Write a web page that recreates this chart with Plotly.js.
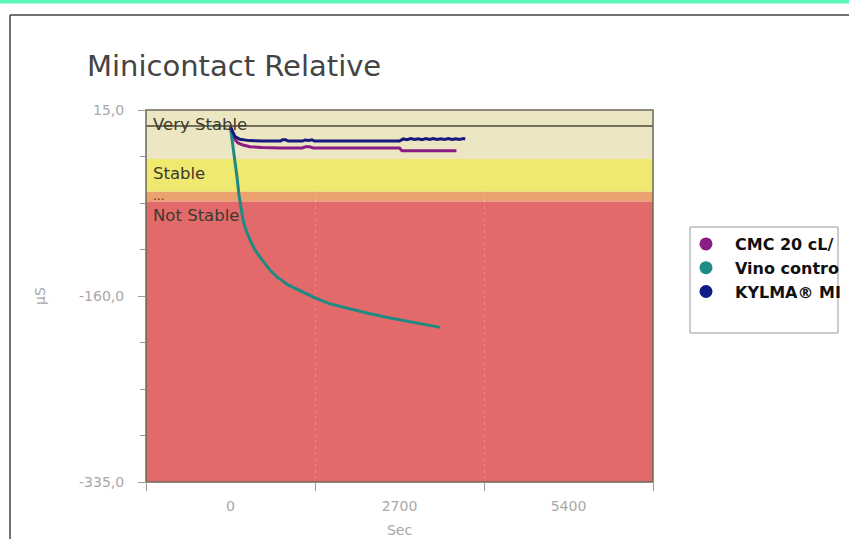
<!DOCTYPE html>
<html>
<head>
<meta charset="utf-8">
<script src="https://cdn.plot.ly/plotly-3.0.1.min.js"></script>
<style>html,body{margin:0;padding:0;background:#fff;}#chart{width:849px;height:539px;}</style>
</head>
<body>
<div id="chart"></div>
<script>
// ---- data ----
const seriesNames = ['CMC 20 cL/', 'Vino contro', 'KYLMA® MI'];

const tCmc = [0, 40, 72, 120, 200, 312, 500, 800, 1150, 1200, 1260, 1320, 1500, 2000, 2700, 2740, 3000, 3610];
const vCmc = [-1, -9, -13, -16, -18, -19.5, -20.3, -20.7, -20.7, -19.5, -19.5, -20.7, -20.7, -20.7, -20.7, -23.3, -23.3, -23.3];

const tVino = [0, 40, 72, 104, 136, 168, 200, 248, 312, 391, 503, 631, 743, 919, 1110, 1350, 1590, 1909, 2181, 2468, 2708, 3028, 3347];
const vVino = [-2, -17.9, -32, -48, -65, -79, -88.5, -98, -107.3, -116.7, -126.1, -135.5, -142.1, -149.6, -155.3, -161.8, -167.4, -172.2, -176, -179.8, -182.6, -185.9, -189.5];

const tKylma = [0, 40, 72, 150, 300, 500, 800, 830, 880, 920, 1150, 1190, 1250, 1300, 1340, 1400, 2700, 2760, 2820, 2880, 2940, 3000, 3060, 3120, 3180, 3240, 3300, 3360, 3420, 3480, 3540, 3600, 3660, 3720, 3750];
const vKylma = [-1, -7, -10, -12.5, -13.8, -14.2, -14.2, -13, -13, -14.2, -14.2, -13.2, -13.6, -13, -14.2, -14.2, -14.2, -12.2, -12.9, -11.9, -12.8, -12, -12.9, -11.9, -12.7, -11.8, -12.8, -12, -12.8, -11.9, -12.8, -12, -12.7, -11.9, -12.3];

const bandLabels = ['Very Stable', 'Stable', '...', 'Not Stable'];
const bandTop    = [15, -31, -62, -71];
const bandBottom = [-31, -62, -71, -335];
const bandLabelAt = [1.8, -44.3, -65.5, -83.8];
const referenceLine = 0;

const xTickVals = [0, 2700, 5400];
const xTickText = ['0', '2700', '5400'];
const yTickVals = [15, -160, -335];
const yTickText = ['15,0', '-160,0', '-335,0'];

// ---- styles ----
const lineColors = ['#8b1c86', '#1e8a82', '#16187e'];
const markerColors = ['#8b1c86', '#1e8c84', '#0e1a88'];
const bandColors = ['#ede6c3', '#efe96f', '#eca26f', '#e36a6a'];

// geometry helpers (plot area in px)
const L = 146, R = 653, T = 110, B = 482, W = 849, H = 539;
const px2x = p => (p - L) / (R - L);
const px2y = p => 1 - (p - T) / (B - T);

const series = [[tCmc, vCmc], [tVino, vVino], [tKylma, vKylma]];
const traces = [];
series.forEach((s, i) => {
  traces.push({
    x: s[0], y: s[1], type: 'scatter', mode: 'lines',
    line: {color: lineColors[i], width: 3},
    showlegend: false, hoverinfo: 'skip', name: seriesNames[i]
  });
});
seriesNames.forEach((n, i) => {
  traces.push({
    x: [null], y: [null], type: 'scatter', mode: 'markers', name: n,
    marker: {color: markerColors[i], size: 13}, hoverinfo: 'skip'
  });
});

const shapes = [];
bandLabels.forEach((b, i) => {
  shapes.push({type: 'rect', xref: 'paper', yref: 'y', x0: 0, x1: 1, y0: bandBottom[i], y1: bandTop[i],
    fillcolor: bandColors[i], line: {width: 0}, layer: 'below'});
});
shapes.push({type: 'line', xref: 'paper', yref: 'y', x0: 0, x1: 1, y0: referenceLine, y1: referenceLine,
  line: {color: '#4a4a3a', width: 1.5}, layer: 'above'});
shapes.push({type: 'rect', xref: 'paper', yref: 'paper', x0: 0, x1: 1, y0: 0, y1: 1,
  line: {color: '#6a6a5a', width: 1.5}, layer: 'above'});
// page decorations
shapes.push({type: 'rect', xref: 'paper', yref: 'paper', x0: px2x(-5), x1: px2x(W + 5), y0: px2y(3.5), y1: px2y(-5),
  fillcolor: '#5ef5b9', line: {width: 0}});
shapes.push({type: 'line', xref: 'paper', yref: 'paper', x0: px2x(10), x1: px2x(W + 5), y0: px2y(15), y1: px2y(15),
  line: {color: '#444', width: 1.5}});
shapes.push({type: 'line', xref: 'paper', yref: 'paper', x0: px2x(10), x1: px2x(10), y0: px2y(15), y1: px2y(H + 5),
  line: {color: '#444', width: 1.5}});
// legend frame
shapes.push({type: 'rect', xref: 'paper', yref: 'paper', x0: px2x(690), x1: px2x(838), y0: px2y(333), y1: px2y(227),
  fillcolor: '#fff', line: {color: '#999', width: 1}, layer: 'below'});

const annotations = bandLabels.map((b, i) => ({
  xref: 'paper', yref: 'y', x: px2x(151), y: bandLabelAt[i], xanchor: 'left', yanchor: 'middle',
  text: b, showarrow: false, font: {family: 'DejaVu Sans', size: i === 2 ? 12 : 16.5, color: '#3c3a2c'}
}));

const layout = {
  width: W, height: H,
  margin: {l: L, r: W - R, t: T, b: H - B, autoexpand: false},
  paper_bgcolor: '#fff', plot_bgcolor: '#fff',
  font: {family: 'DejaVu Sans', color: '#a8a8a8'},
  title: {text: 'Minicontact Relative', xref: 'container', yref: 'container', x: 87 / W, xanchor: 'left',
    y: 1 - 66 / H, yanchor: 'middle', font: {family: 'DejaVu Sans', size: 29, color: '#444'}},
  xaxis: {
    range: [-1350, 6750], tickmode: 'array', tickvals: xTickVals, ticktext: xTickText,
    ticks: '', showgrid: false, zeroline: false, showline: false,
    tickfont: {size: 14, color: '#a8a8a8'}, ticklabelstandoff: 14,
    minor: {tick0: -1350, dtick: 2700, ticks: 'outside', ticklen: 8, tickcolor: '#999',
      showgrid: true, gridcolor: 'rgba(255,255,255,0.2)', griddash: 'dot', gridwidth: 1},
    title: {text: 'Sec', font: {size: 14, color: '#a8a8a8'}, standoff: 12}
  },
  yaxis: {
    range: [-335, 15], tickmode: 'array', tickvals: yTickVals, ticktext: yTickText,
    ticks: 'outside', ticklen: 7, tickcolor: '#999', showgrid: false, zeroline: false, showline: false,
    tickfont: {size: 14, color: '#a8a8a8'}, ticklabelstandoff: 11,
    minor: {tick0: 15, dtick: 43.75, ticks: 'outside', ticklen: 5, tickcolor: '#999', showgrid: false},
    title: {text: 'µS', font: {size: 14, color: '#a8a8a8'}, standoff: 30}
  },
  showlegend: true,
  legend: {x: px2x(677), xanchor: 'left', y: px2y(227), yanchor: 'top', bgcolor: 'rgba(0,0,0,0)', borderwidth: 0,
    font: {family: 'DejaVu Sans', size: 16, color: '#111', weight: 'bold'}, itemsizing: 'trace', itemwidth: 48},
  shapes: shapes,
  annotations: annotations
};

Plotly.newPlot('chart', traces, layout, {displayModeBar: false, staticPlot: true});
</script>
</body>
</html>
